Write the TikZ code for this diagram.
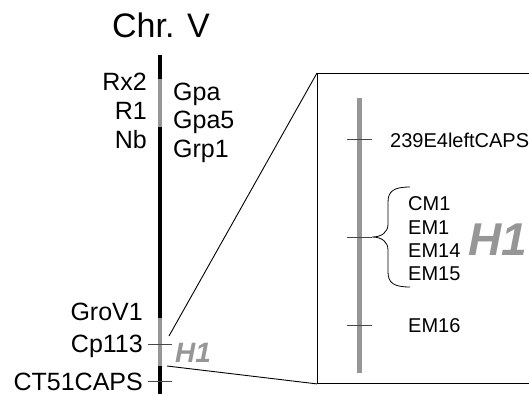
\documentclass[tikz,border=0pt]{standalone}
\usepackage{fontspec}
\setmainfont{Liberation Sans}
\usepackage{tikz}
\usetikzlibrary{positioning}
\definecolor{chrgray}{RGB}{150,150,150}
\definecolor{tickgray}{RGB}{70,70,70}
\tikzset{
  lbl/.style={inner sep=0pt,font=\fontsize{25}{30}\selectfont},
  inlbl/.style={inner sep=0pt,font=\fontsize{20}{24}\selectfont},
  tick/.style={tickgray,line width=1pt},
  zoombox/.style={draw,line width=0.9pt,minimum width=300pt,minimum height=310pt,inner sep=0pt},
  hlbl/.style={inner sep=0pt,chrgray,font=\bfseries\itshape}
}
\begin{document}
\begin{tikzpicture}[x=1pt,y=-1pt]
  \useasboundingbox (0,0) rectangle (529,394);
  \clip (0,0) rectangle (529,394);
  % chromosome V
  \node[inner sep=0pt,anchor=base,font=\fontsize{34}{40}\selectfont] (title) at (161,37) {Chr. V};
  \fill[black] (158,55) rectangle (162,394);
  \fill[chrgray] (158,79) rectangle (162,127);
  \fill[chrgray] (158,318) rectangle (162,366);
  % loci on the left and right
  \node[lbl,anchor=base east] (rx2) at (147,90.5) {Rx2};
  \node[lbl,anchor=base east] (r1) at (147,119) {R1};
  \node[lbl,anchor=base east] (nb) at (147,148) {Nb};
  \node[lbl,anchor=base west] (gpa) at (173,100) {Gpa};
  \node[lbl,anchor=base west] (gpa5) at (173,128) {Gpa5};
  \node[lbl,anchor=base west] (grp1) at (173,157) {Grp1};
  \node[lbl,anchor=base east] (grov1) at (143,320) {GroV1};
  \node[lbl,anchor=base east] (cp113) at (143,352) {Cp113};
  \node[lbl,anchor=base east] (ct51) at (143,390) {CT51CAPS};
  \coordinate (cpL) at (148,344); \coordinate (cpR) at (172,344);
  \coordinate (ctL) at (148,381); \coordinate (ctR) at (172,381);
  \draw[tick] (cpL) -- (cpR);
  \draw[tick] (ctL) -- (ctR);
  \node[hlbl,anchor=base west,font=\fontsize{28}{32}\selectfont\bfseries\itshape] (h1small) at (175,362) {H1};
  % enlarged region
  \node[zoombox,anchor=north west] (zoom) at (317,73) {};
  \coordinate (h1top) at (169,336);
  \coordinate (h1bot) at (167,366);
  \draw[line width=0.9pt] (h1top) -- (zoom.north west);
  \draw[line width=0.9pt] (h1bot) -- (zoom.south west);
  \fill[chrgray] (357,98) rectangle (362,373);
  \coordinate (t1L) at (347,139); \coordinate (t1R) at (372,139);
  \coordinate (t2L) at (347,237); \coordinate (t2R) at (372,237);
  \coordinate (t3L) at (347,325); \coordinate (t3R) at (372,325);
  \draw[tick] (t1L) -- (t1R);
  \draw[tick] (t2L) -- (t2R);
  \draw[tick] (t3L) -- (t3R);
  \draw[line width=0.8pt] (410,187) .. controls (394,187) and (388,191) .. (388,202)
    -- (388,224) .. controls (388,232) and (382,237) .. (t2R)
    .. controls (382,237) and (388,242) .. (388,250)
    -- (388,272) .. controls (388,283) and (394,287) .. (410,287);
  \node[inlbl,anchor=base west] (caps239) at (390,147) {239E4leftCAPS};
  \node[inlbl,anchor=base west] (cm1) at (408,210) {CM1};
  \node[inlbl,anchor=base west] (em1) at (408,234) {EM1};
  \node[inlbl,anchor=base west] (em14) at (408,257) {EM14};
  \node[inlbl,anchor=base west] (em15) at (408,280) {EM15};
  \node[inlbl,anchor=base west] (em16) at (408,332) {EM16};
  \node[hlbl,anchor=base west,font=\fontsize{46}{50}\selectfont\bfseries\itshape] (h1big) at (468,255) {H1};
\end{tikzpicture}
\end{document}
